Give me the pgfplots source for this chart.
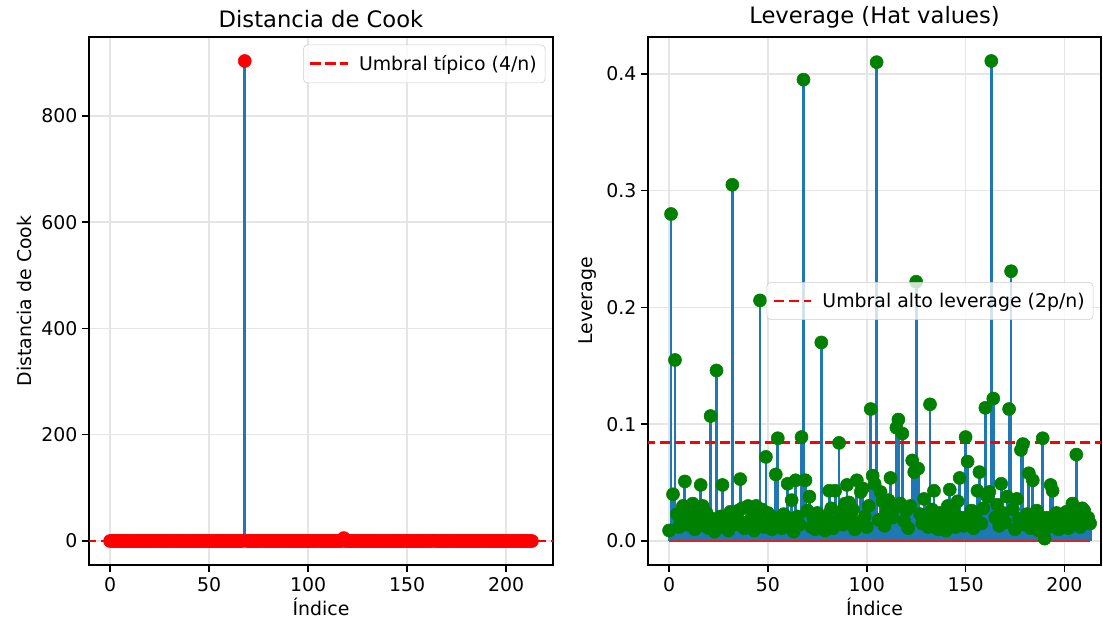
\documentclass[border=0pt]{standalone}
\usepackage{fontspec}
\setmainfont{DejaVu Sans}
\usepackage{pgfplots}
\usepackage{pgfplotstable}
\pgfplotsset{compat=1.18}
\definecolor{C0}{HTML}{1F77B4}
\definecolor{C3}{HTML}{D62728}
\definecolor{mred}{HTML}{FF0000}
\definecolor{mgreen}{HTML}{008000}

\pgfplotstableread[row sep=\\]{v\\
0.01\\ 0.35\\ 0.02\\ 0.12\\ 0.00\\ 0.01\\ 0.03\\ 0.00\\ 0.05\\ 0.01\\
0.02\\ 0.00\\ 0.01\\ 0.00\\ 0.01\\ 0.03\\ 0.04\\ 0.01\\ 0.00\\ 0.02\\
0.00\\ 0.08\\ 0.01\\ 0.00\\ 0.15\\ 0.01\\ 0.00\\ 0.02\\ 0.00\\ 0.01\\
0.00\\ 0.02\\ 0.42\\ 0.01\\ 0.00\\ 0.01\\ 0.03\\ 0.02\\ 0.00\\ 0.01\\
0.02\\ 0.00\\ 0.01\\ 0.00\\ 0.03\\ 0.01\\ 0.21\\ 0.00\\ 0.01\\ 0.06\\
0.01\\ 0.00\\ 0.00\\ 0.01\\ 0.02\\ 0.07\\ 0.01\\ 0.00\\ 0.02\\ 0.00\\
0.03\\ 0.01\\ 0.02\\ 0.00\\ 0.04\\ 0.01\\ 0.00\\ 0.09\\ 903.2\\ 0.05\\
0.01\\ 0.02\\ 0.00\\ 0.01\\ 0.00\\ 0.02\\ 0.01\\ 0.18\\ 0.00\\ 0.00\\
0.01\\ 0.03\\ 0.02\\ 0.00\\ 0.02\\ 0.01\\ 0.06\\ 0.01\\ 0.00\\ 0.02\\
0.03\\ 0.02\\ 0.01\\ 0.01\\ 0.00\\ 0.04\\ 0.01\\ 0.02\\ 0.03\\ 0.01\\
0.00\\ 0.02\\ 0.11\\ 0.03\\ 0.02\\ 0.48\\ 0.01\\ 0.02\\ 0.01\\ 0.00\\
0.01\\ 0.02\\ 0.04\\ 0.01\\ 0.02\\ 0.08\\ 0.09\\ 0.01\\ 5.5\\ 0.00\\
0.01\\ 0.00\\ 0.02\\ 0.05\\ 0.03\\ 0.26\\ 0.04\\ 0.01\\ 0.00\\ 0.02\\
0.01\\ 0.00\\ 0.10\\ 0.01\\ 0.02\\ 0.01\\ 0.00\\ 0.01\\ 0.00\\ 0.01\\
0.00\\ 0.02\\ 0.03\\ 0.01\\ 0.01\\ 0.00\\ 0.02\\ 0.04\\ 0.01\\ 0.00\\
0.07\\ 0.05\\ 0.01\\ 0.01\\ 0.00\\ 0.01\\ 0.02\\ 0.04\\ 0.00\\ 0.01\\
0.12\\ 0.02\\ 0.03\\ 0.55\\ 0.14\\ 0.01\\ 0.02\\ 0.00\\ 0.03\\ 0.01\\
0.00\\ 0.02\\ 0.10\\ 0.29\\ 0.01\\ 0.00\\ 0.02\\ 0.01\\ 0.06\\ 0.07\\
0.00\\ 0.01\\ 0.04\\ 0.00\\ 0.03\\ 0.01\\ 0.01\\ 0.00\\ 0.00\\ 0.08\\
0.00\\ 0.01\\ 0.00\\ 0.03\\ 0.02\\ 0.01\\ 0.01\\ 0.00\\ 0.01\\ 0.00\\
0.01\\ 0.02\\ 0.00\\ 0.01\\ 0.02\\ 0.00\\ 0.05\\ 0.01\\ 0.00\\ 0.02\\
0.01\\ 0.01\\ 0.01\\ 0.00\\
}\cook

\pgfplotstableread[row sep=\\]{v\\
0.009\\ 0.280\\ 0.040\\ 0.155\\ 0.023\\ 0.012\\ 0.018\\ 0.030\\ 0.051\\ 0.014\\
0.026\\ 0.020\\ 0.032\\ 0.010\\ 0.016\\ 0.022\\ 0.048\\ 0.030\\ 0.013\\ 0.024\\
0.011\\ 0.107\\ 0.019\\ 0.008\\ 0.146\\ 0.015\\ 0.021\\ 0.048\\ 0.012\\ 0.017\\
0.009\\ 0.025\\ 0.305\\ 0.014\\ 0.020\\ 0.026\\ 0.053\\ 0.028\\ 0.011\\ 0.016\\
0.030\\ 0.013\\ 0.022\\ 0.009\\ 0.030\\ 0.018\\ 0.206\\ 0.027\\ 0.012\\ 0.072\\
0.024\\ 0.015\\ 0.010\\ 0.020\\ 0.057\\ 0.088\\ 0.016\\ 0.011\\ 0.023\\ 0.013\\
0.049\\ 0.019\\ 0.035\\ 0.008\\ 0.052\\ 0.021\\ 0.014\\ 0.089\\ 0.395\\ 0.052\\
0.026\\ 0.038\\ 0.012\\ 0.020\\ 0.010\\ 0.024\\ 0.016\\ 0.170\\ 0.013\\ 0.009\\
0.022\\ 0.043\\ 0.028\\ 0.011\\ 0.043\\ 0.017\\ 0.084\\ 0.025\\ 0.014\\ 0.032\\
0.048\\ 0.033\\ 0.019\\ 0.027\\ 0.010\\ 0.052\\ 0.015\\ 0.042\\ 0.045\\ 0.021\\
0.012\\ 0.030\\ 0.113\\ 0.056\\ 0.049\\ 0.410\\ 0.018\\ 0.042\\ 0.034\\ 0.013\\
0.025\\ 0.035\\ 0.054\\ 0.020\\ 0.028\\ 0.097\\ 0.104\\ 0.032\\ 0.092\\ 0.017\\
0.026\\ 0.011\\ 0.030\\ 0.069\\ 0.059\\ 0.222\\ 0.062\\ 0.023\\ 0.015\\ 0.036\\
0.019\\ 0.012\\ 0.117\\ 0.027\\ 0.043\\ 0.018\\ 0.010\\ 0.024\\ 0.014\\ 0.021\\
0.009\\ 0.030\\ 0.044\\ 0.016\\ 0.025\\ 0.012\\ 0.034\\ 0.054\\ 0.020\\ 0.013\\
0.089\\ 0.068\\ 0.017\\ 0.026\\ 0.011\\ 0.022\\ 0.043\\ 0.059\\ 0.015\\ 0.028\\
0.114\\ 0.038\\ 0.042\\ 0.411\\ 0.122\\ 0.020\\ 0.031\\ 0.013\\ 0.049\\ 0.024\\
0.016\\ 0.038\\ 0.113\\ 0.231\\ 0.027\\ 0.010\\ 0.036\\ 0.019\\ 0.078\\ 0.083\\
0.014\\ 0.023\\ 0.058\\ 0.011\\ 0.052\\ 0.017\\ 0.026\\ 0.009\\ 0.015\\ 0.088\\
0.002\\ 0.020\\ 0.012\\ 0.048\\ 0.043\\ 0.016\\ 0.024\\ 0.010\\ 0.021\\ 0.013\\
0.019\\ 0.025\\ 0.011\\ 0.018\\ 0.032\\ 0.015\\ 0.074\\ 0.022\\ 0.012\\ 0.028\\
0.026\\ 0.017\\ 0.020\\ 0.015\\
}\lev

\pgfplotsset{
  mpl/.style={
    scale only axis,
    axis line style={line width=1.09pt, black},
    tick align=outside,
    major tick length=4.76pt,
    tick style={black, line width=1.09pt},
    xtick pos=bottom, ytick pos=left,
    grid=major,
    grid style={color=black!10, line width=1.09pt},
    ticklabel style={font=\fontsize{13.6}{16}\selectfont},
    xticklabel style={yshift=-1pt},
    label style={font=\fontsize{13.6}{16}\selectfont},
    xlabel style={yshift=3pt},
    title style={font=\fontsize{16.3}{19}\selectfont, yshift=-3pt},
    /pgf/number format/assume math mode=true,
    xtick={0,50,100,150,200},
    legend cell align=left,
    legend style={font=\fontsize{13.6}{16}\selectfont, draw=black!20, rounded corners=3pt,
      fill=white, fill opacity=0.8, text opacity=1, draw opacity=1,
      inner xsep=4pt, inner ysep=5.5pt},
    legend image code/.code={\draw[#1, opacity=1] (0pt,0pt) -- (27pt,0pt); \path (32pt,0pt);},
  },
}

\begin{document}
\begin{tikzpicture}
\path[use as bounding box] (0,0) rectangle (794.16pt,447.12pt);
\begin{axis}[mpl,
  at={(64.08pt,40.32pt)}, anchor=south west,
  width=334.08pt, height=380.16pt,
  xmin=-10.65, xmax=223.65,
  ymin=-45.16, ymax=948.36,
  ytick={0,200,400,600,800},
  title={Distancia de Cook},
  xlabel={Índice}, ylabel={Distancia de Cook},
  legend style={at={(1,1)}, anchor=north east, xshift=-5.5pt, yshift=-5.5pt},
]
\addplot[ycomb, color=C0, line width=2.04pt, forget plot] table[x expr=\coordindex, y=v] {\cook};
\addplot[only marks, mark=*, mark size=4.7pt, color=mred, forget plot] table[x expr=\coordindex, y=v] {\cook};
\addplot[color=C3, line width=2.04pt, forget plot] coordinates {(0,0) (213,0)};
\addplot[color=mred, line width=2.04pt, dash pattern=on 7.55pt off 3.26pt] coordinates {(-20,0.0187) (240,0.0187)};
\addlegendentry{Umbral típico (4/n)}
\end{axis}

\begin{axis}[mpl,
  at={(466.56pt,40.32pt)}, anchor=south west,
  width=326.16pt, height=380.16pt,
  xmin=-10.65, xmax=218.5,
  ymin=-0.02055, ymax=0.43155,
  ytick={0,0.1,0.2,0.3,0.4},
  yticklabel style={/pgf/number format/.cd, fixed, fixed zerofill, precision=1},
  title={Leverage (Hat values)},
  xlabel={Índice}, ylabel={Leverage},
  legend style={at={(1,0.5)}, anchor=east, xshift=-5.5pt},
]
\addplot[ycomb, color=C0, line width=2.04pt, forget plot] table[x expr=\coordindex, y=v] {\lev};
\addplot[only marks, mark=*, mark size=4.7pt, color=mgreen, forget plot] table[x expr=\coordindex, y=v] {\lev};
\addplot[color=C3, line width=2.04pt, forget plot] coordinates {(0,0) (213,0)};
\addplot[color=mred, line width=2.04pt, dash pattern=on 7.55pt off 3.26pt] coordinates {(-20,0.0841) (240,0.0841)};
\addlegendentry{Umbral alto leverage (2p/n)}
\end{axis}
\end{tikzpicture}
\end{document}
